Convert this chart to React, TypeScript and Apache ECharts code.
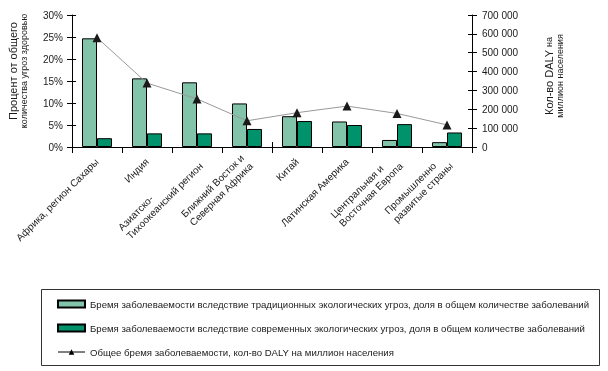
import React, { useEffect, useRef } from "react";
import * as echarts from "echarts";

const categories = [
  "Африка, регион Сахары",
  "Индия",
  "Азиатско-\nТихоокеанский регион",
  "Ближний Восток и\nСеверная Африка",
  "Китай",
  "Латинская Америка",
  "Центральная и\nВосточная Европа",
  "Промышленно\nразвитые страны",
];
const traditional = [24.7, 15.6, 14.7, 9.9, 7.0, 5.8, 1.6, 1.1];
const modern = [2.0, 3.1, 3.1, 4.1, 5.9, 5.0, 5.2, 3.3];
const dalyPerMillion = [580000, 339000, 255000, 139000, 182000, 217000, 178000, 117000];

const nameTraditional =
  "Бремя заболеваемости вследствие традиционных экологических угроз, доля в общем количестве заболеваний";
const nameModern =
  "Бремя заболеваемости вследствие современных экологических угроз, доля в общем количестве заболеваний";
const nameDaly = "Общее бремя заболеваемости, кол-во DALY на миллион населения";

const FONT = "Liberation Sans, Arial, sans-serif";
const TEXT = "#1a1a1a";

export default function App() {
  const ref = useRef<HTMLDivElement>(null);
  useEffect(() => {
    if (!ref.current) return;
    const chart = echarts.init(ref.current, undefined, { renderer: "svg" });
    const fmtThousands = (v: number) =>
      String(v).replace(/\B(?=(\d{3})+(?!\d))/g, " ");
    const hiddenY = (pos: "left" | "right", min: number, max: number, interval: number) => ({
      type: "value",
      position: pos,
      min,
      max,
      interval,
      axisLine: { show: false },
      axisTick: { show: true, inside: true, length: 4, lineStyle: { color: "#000" } },
      axisLabel: { show: false },
      splitLine: { show: false },
    });
    chart.setOption({
      animation: false,
      textStyle: { fontFamily: FONT, color: TEXT },
      grid: { left: 72, right: 136, top: 15, bottom: 224, containLabel: false },
      xAxis: [
        {
          type: "category",
          data: categories,
          position: "bottom",
          boundaryGap: true,
          axisLine: { lineStyle: { color: "#000", width: 1 } },
          axisTick: { show: true, length: 6, lineStyle: { color: "#000" } },
          axisLabel: {
            interval: 0,
            rotate: 45,
            margin: 13,
            color: TEXT,
            fontFamily: FONT,
            fontSize: 10,
            lineHeight: 12,
            formatter: (v: string) =>
              v
                .split("\n")
                .map((l) => "{a|" + l + "}")
                .join("\n"),
            rich: { a: { align: "left", fontSize: 10, lineHeight: 12, fontFamily: FONT, color: TEXT } },
          },
          splitLine: { show: false },
        },
        {
          type: "category",
          data: categories,
          position: "bottom",
          boundaryGap: true,
          axisLine: { show: false },
          axisTick: { show: true, inside: true, length: 5, lineStyle: { color: "#000" } },
          axisLabel: { show: false },
          splitLine: { show: false },
        },
      ],
      yAxis: [
        {
          type: "value",
          position: "left",
          min: 0,
          max: 30,
          interval: 5,
          axisLine: { show: true, lineStyle: { color: "#000", width: 1 } },
          axisTick: { show: true, length: 5, lineStyle: { color: "#000" } },
          axisLabel: { formatter: "{value}%", fontSize: 10, color: TEXT, margin: 9, fontFamily: FONT },
          splitLine: { show: false },
        },
        {
          type: "value",
          position: "right",
          min: 0,
          max: 700000,
          interval: 100000,
          axisLine: { show: true, lineStyle: { color: "#000", width: 1 } },
          axisTick: { show: true, length: 5, lineStyle: { color: "#000" } },
          axisLabel: {
            formatter: (v: number) => fmtThousands(v),
            fontSize: 10,
            color: TEXT,
            margin: 10,
            fontFamily: FONT,
          },
          splitLine: { show: false },
        },
        hiddenY("left", 0, 30, 5),
        hiddenY("right", 0, 700000, 100000),
      ],
      legend: {
        orient: "vertical",
        left: 57,
        top: 298,
        padding: 0,
        itemGap: 12,
        itemWidth: 27,
        itemHeight: 7,
        selectedMode: false,
        textStyle: { fontSize: 9.6, color: TEXT, fontFamily: FONT, lineHeight: 12 },
        data: [
          { name: nameTraditional, icon: "rect" },
          { name: nameModern, icon: "rect" },
          { name: nameDaly, lineStyle: { color: "#000", width: 1 }, itemStyle: { color: "#000" } },
        ],
      },
      graphic: [
        {
          type: "rect",
          shape: { x: 41.5, y: 289.5, width: 558, height: 76 },
          style: { fill: "none", stroke: "#333", lineWidth: 1 },
          silent: true,
        },
        {
          type: "text",
          x: 18,
          y: 71,
          rotation: Math.PI / 2,
          style: {
            text: "{a|Процент от общего}\n{b|количества угроз здоровью}",
            align: "center",
            verticalAlign: "middle",
            rich: {
              a: { fontSize: 11, fontFamily: FONT, fill: TEXT, lineHeight: 11, align: "center" },
              b: { fontSize: 9, fontFamily: FONT, fill: TEXT, lineHeight: 10, align: "center" },
            },
          },
        },
        {
          type: "text",
          x: 554,
          y: 76,
          rotation: Math.PI / 2,
          style: {
            text: "{a|Кол-во DALY }{c|на}\n{b|миллион населения}",
            align: "center",
            verticalAlign: "middle",
            rich: {
              a: { fontSize: 11, fontFamily: FONT, fill: TEXT, lineHeight: 12 },
              c: { fontSize: 9, fontFamily: FONT, fill: TEXT, lineHeight: 12 },
              b: { fontSize: 9, fontFamily: FONT, fill: TEXT, lineHeight: 10, align: "center" },
            },
          },
        },
      ],
      series: [
        {
          name: nameTraditional,
          type: "bar",
          xAxisIndex: 0,
          yAxisIndex: 0,
          data: traditional,
          barWidth: 15,
          barGap: "0%",
          itemStyle: { color: "#82c4a9", borderColor: "#000", borderWidth: 1 },
        },
        {
          name: nameModern,
          type: "bar",
          xAxisIndex: 0,
          yAxisIndex: 0,
          data: modern,
          barWidth: 15,
          barGap: "0%",
          itemStyle: { color: "#00926a", borderColor: "#000", borderWidth: 1 },
        },
        {
          name: nameDaly,
          type: "line",
          xAxisIndex: 0,
          yAxisIndex: 1,
          data: dalyPerMillion,
          symbol: "triangle",
          symbolSize: 9,
          lineStyle: { color: "#999", width: 1 },
          itemStyle: { color: "#1a1a1a" },
          z: 5,
        },
      ],
    });
    return () => chart.dispose();
  }, []);
  return <div ref={ref} style={{ width: 608, height: 371, position: "fixed", left: 0, top: 0 }} />;
}
